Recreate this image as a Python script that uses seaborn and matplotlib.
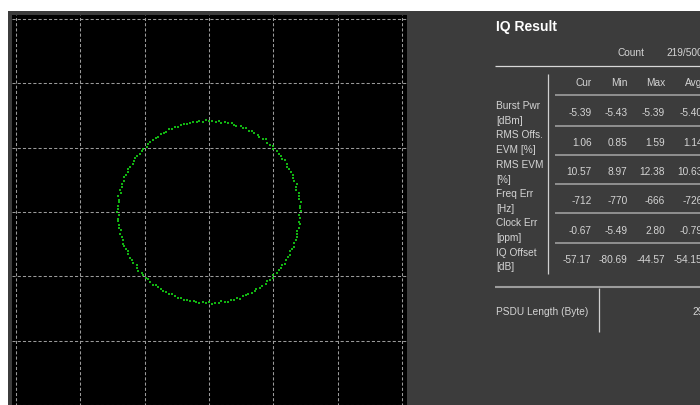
import numpy as np
import pandas as pd
import matplotlib
matplotlib.use("Agg")
import matplotlib.pyplot as plt
from matplotlib.patches import Rectangle
import seaborn as sns

# ---- constellation samples: phase (deg) and magnitude of each captured symbol ----
phase_deg = [
    0.4, 2.3, 3.9, 6.1, 8.2, 9.8, 11.7, 14.2, 16.0, 17.6,
    19.9, 22.1, 23.7, 26.0, 28.3, 29.8, 31.6, 34.1, 35.9, 38.2,
    39.7, 41.8, 44.3, 45.9, 47.7, 50.2, 52.0, 53.6, 56.1, 57.8,
    60.2, 61.9, 63.7, 66.3, 67.9, 69.6, 72.2, 74.0, 75.7, 78.1,
    79.8, 82.3, 84.0, 85.7, 88.2, 89.9, 92.1, 93.8, 96.2, 97.7,
    100.1, 102.3, 103.8, 105.9, 108.2, 110.0, 111.6, 114.1, 115.8, 118.3,
    119.9, 121.7, 124.2, 125.9, 127.8, 130.3, 131.9, 133.7, 136.1, 137.8,
    140.2, 141.9, 143.8, 146.1, 147.7, 150.3, 152.0, 153.8, 156.2, 157.9,
    159.7, 162.1, 163.9, 166.2, 167.8, 169.9, 172.3, 173.8, 176.0, 178.2,
    179.8, 181.9, 184.2, 185.8, 188.1, 190.0, 191.7, 194.2, 195.9, 198.1,
    200.2, 201.8, 204.1, 206.0, 207.7, 210.2, 211.9, 213.8, 216.1, 218.0,
    219.7, 222.2, 223.9, 226.1, 227.8, 229.9, 232.3, 233.9, 235.8, 238.1,
    240.0, 241.7, 244.2, 245.9, 248.0, 250.1, 251.8, 254.2, 255.9, 257.7,
    260.2, 262.0, 263.8, 266.1, 267.9, 270.2, 271.8, 273.9, 276.1, 277.8,
    279.9, 282.2, 283.8, 286.0, 288.1, 289.8, 292.2, 293.9, 295.8, 298.1,
    300.0, 301.8, 304.1, 305.9, 308.2, 309.8, 311.9, 314.2, 315.8, 318.0,
    320.1, 321.9, 324.2, 325.8, 327.9, 330.2, 331.8, 334.0, 336.2, 337.9,
    339.8, 342.1, 343.9, 346.2, 347.8, 350.0, 352.2, 353.9, 356.1, 357.9,
]
magnitude = [
    0.712, 0.705, 0.709, 0.716, 0.703, 0.708, 0.711, 0.699, 0.707, 0.714,
    0.706, 0.701, 0.710, 0.713, 0.704, 0.697, 0.708, 0.715, 0.702, 0.709,
    0.711, 0.706, 0.700, 0.712, 0.708, 0.703, 0.717, 0.705, 0.699, 0.710,
    0.707, 0.713, 0.702, 0.709, 0.704, 0.711, 0.698, 0.706, 0.714, 0.703,
    0.708, 0.701, 0.712, 0.705, 0.710, 0.707, 0.715, 0.700, 0.709, 0.704,
    0.711, 0.706, 0.702, 0.713, 0.708, 0.699, 0.710, 0.705, 0.716, 0.703,
    0.707, 0.712, 0.701, 0.709, 0.704, 0.714, 0.706, 0.700, 0.711, 0.708,
    0.703, 0.710, 0.715, 0.705, 0.698, 0.709, 0.712, 0.704, 0.707, 0.713,
    0.701, 0.708, 0.706, 0.711, 0.703, 0.716, 0.709, 0.702, 0.710, 0.705,
    0.712, 0.699, 0.707, 0.714, 0.704, 0.709, 0.701, 0.711, 0.706, 0.703,
    0.710, 0.715, 0.705, 0.700, 0.708, 0.712, 0.703, 0.709, 0.697, 0.706,
    0.713, 0.704, 0.710, 0.707, 0.701, 0.711, 0.716, 0.705, 0.708, 0.702,
    0.709, 0.706, 0.712, 0.699, 0.707, 0.714, 0.703, 0.710, 0.705, 0.711,
    0.700, 0.708, 0.713, 0.704, 0.709, 0.702, 0.715, 0.706, 0.711, 0.698,
    0.707, 0.712, 0.703, 0.710, 0.705, 0.716, 0.701, 0.709, 0.704, 0.713,
    0.708, 0.700, 0.711, 0.706, 0.714, 0.703, 0.709, 0.712, 0.699, 0.707,
    0.705, 0.710, 0.702, 0.715, 0.708, 0.704, 0.711, 0.697, 0.709, 0.713,
    0.703, 0.708, 0.712, 0.706, 0.701, 0.710, 0.714, 0.705, 0.709, 0.702,
]

# ---- IQ result table ----
title = "IQ Result"
count_label = "Count"
count_value = "219/500"
stat_columns = ["Cur", "Min", "Max", "Avg"]
row_labels = [
    ("Burst Pwr", "[dBm]"),
    ("RMS Offs.", "EVM [%]"),
    ("RMS EVM", "[%]"),
    ("Freq Err", "[Hz]"),
    ("Clock Err", "[ppm]"),
    ("IQ Offset", "[dB]"),
]
cur_values = ["-5.39", "1.06", "10.57", "-712", "-0.67", "-57.17"]
min_values = ["-5.43", "0.85", "8.97", "-770", "-5.49", "-80.69"]
max_values = ["-5.39", "1.59", "12.38", "-666", "2.80", "-44.57"]
avg_values = ["-5.40", "1.14", "10.63", "-726", "-0.79", "-54.15"]
psdu_label = "PSDU Length (Byte)"
psdu_value = "2900"

sns.set_style("dark")
plt.rcParams["font.family"] = ["Liberation Sans", "DejaVu Sans"]

W, H = 700, 406
fig = plt.figure(figsize=(W / 100, H / 100), dpi=100, facecolor="white")


def fx(px):
    return px / W


def fy(py):
    return 1 - py / H


# panel layer in pixel coordinates (y grows downward)
panel = fig.add_axes([0, 0, 1, 1], zorder=0)
panel.set_xlim(0, W)
panel.set_ylim(H, 0)
panel.axis("off")
panel.add_patch(Rectangle((8, 12), W, H, facecolor="#3c3c3c", edgecolor="none"))

# constellation axes
left, right, top, bottom = 12, 407, 16, 410
ax = fig.add_axes([fx(left), fy(bottom), (right - left) / W, (bottom - top) / H], zorder=1)
ax.set_facecolor("black")

rad = np.deg2rad(np.array(phase_deg))
mag = np.array(magnitude)
df = pd.DataFrame({"I": mag * np.cos(rad), "Q": mag * np.sin(rad)})
sns.scatterplot(data=df, x="I", y="Q", ax=ax, color="#16d416", marker="s",
                s=3.6, linewidth=0, alpha=0.85)

ppu = 386 / 3.0
ax.set_xlim(-1.5 - 4 / ppu, 1.5 + 5 / ppu)
ax.set_ylim(-1.5 - 4 / ppu, 1.5 + 4 / ppu)
ticks = [-1.5, -1.0, -0.5, 0.0, 0.5, 1.0, 1.5]
ax.set_xticks(ticks)
ax.set_yticks(ticks)
ax.tick_params(length=0, labelbottom=False, labelleft=False)
ax.set_xlabel("")
ax.set_ylabel("")
ax.grid(True, color="#9a9a9a", linestyle=(0, (3, 2)), linewidth=0.75)
ax.set_axisbelow(True)
for s in ax.spines.values():
    s.set_visible(False)

# ---- table drawing ----
txt = "#d4d4d4"
fs = 7.3
panel.text(496, 31.5, title, color="white", fontsize=10, fontweight="bold",
           ha="left", va="baseline")
panel.text(617.7, 56.5, count_label, color=txt, fontsize=fs, ha="left", va="baseline")
panel.text(666.7, 56.5, count_value, color=txt, fontsize=fs, ha="left", va="baseline")
panel.plot([495, 720], [66.7, 66.7], color="#d8d8d8", lw=0.9, solid_capstyle="butt")
panel.plot([547.7, 547.7], [75, 275], color="#d0d0d0", lw=0.9, solid_capstyle="butt")

col_right = [591.5, 627.5, 665.0, 702.5]
for c, xr in zip(stat_columns, col_right):
    panel.text(xr, 86, c, color=txt, fontsize=fs, ha="right", va="baseline")

row_base = [116.3, 145.8, 175.3, 204.5, 233.8, 263.0]
seps = [96, 126.5, 155.5, 185, 214, 243.5]
for y in seps:
    panel.plot([555, 720], [y, y], color="#a6a6a6", lw=1.1, solid_capstyle="butt")

columns = [cur_values, min_values, max_values, avg_values]
for i, (l1, l2) in enumerate(row_labels):
    yb = row_base[i]
    panel.text(496, yb - 7.5, l1, color=txt, fontsize=fs, ha="left", va="baseline")
    panel.text(496, yb + 7.5, l2, color=txt, fontsize=fs, ha="left", va="baseline")
    for vals, xr in zip(columns, col_right):
        panel.text(xr, yb, vals[i], color=txt, fontsize=fs, ha="right", va="baseline")

panel.plot([495, 720], [287.7, 287.7], color="#9c9c9c", lw=1.5, solid_capstyle="butt")
panel.plot([599.3, 599.3], [288.5, 333.3], color="#d0d0d0", lw=0.9, solid_capstyle="butt")
panel.text(496, 315.2, psdu_label, color=txt, fontsize=fs, ha="left", va="baseline")
panel.text(692, 315.2, psdu_value, color=txt, fontsize=fs, ha="left", va="baseline")

fig.savefig("out.png", dpi=100, facecolor="white")
